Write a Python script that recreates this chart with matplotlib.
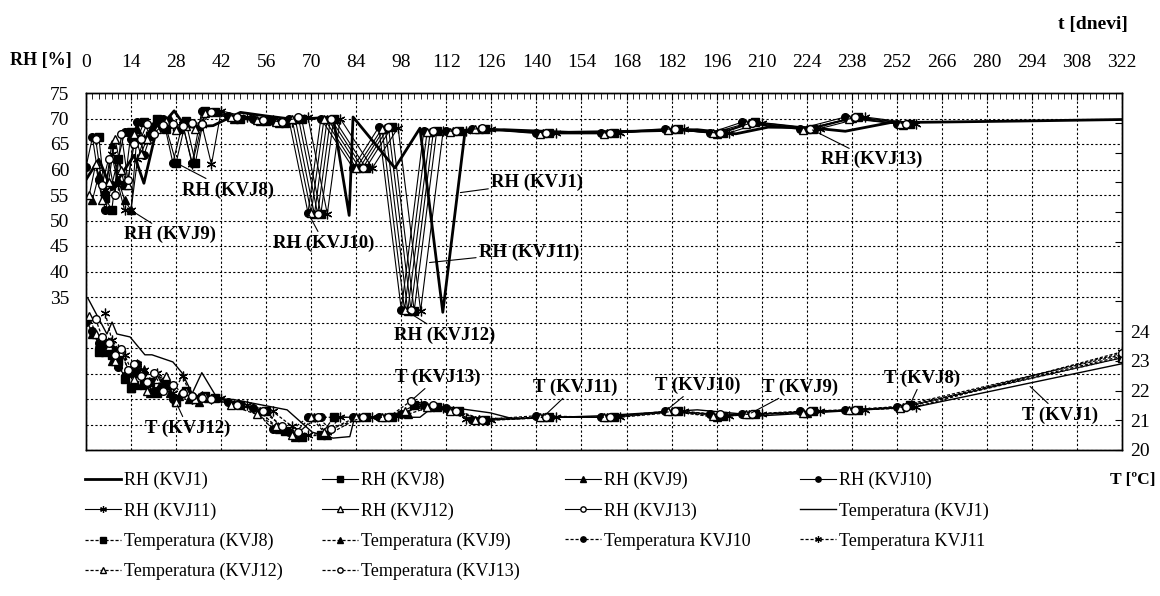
import numpy as np
import matplotlib
matplotlib.use('Agg')
import matplotlib.pyplot as plt

plt.rcParams['font.family'] = 'serif'
plt.rcParams['font.serif'] = ['Liberation Serif', 'DejaVu Serif']

nan = np.nan

# RH (KVJ1) - thick line, no markers
days_rh1 = [0, 4, 8, 12, 15, 18, 21.7, 27.4, 31, 39.5, 48, 56, 65, 76.8, 81.8, 83, 96, 103.8, 110.9, 117.8,
            130, 150, 170, 190, 202, 212, 225, 236, 250, 265, 290, 322]
rh1 = [58, 62, 56, 60, 62.8, 57.3, 67.3, 71.5, 68.3, 68.6, 71.2, 70.5, 69.8, 70.3, 51, 70.3, 60.3, 68.1, 32, 67.4,
       67.8, 67.3, 67.5, 67.8, 67.0, 68.3, 68.2, 67.5, 69.2, 69.3, 69.5, 69.8]

# Temperatura (KVJ1) - thin solid line
days_t1 = [0.6, 6.5, 8.1, 9.6, 13.7, 18.3, 20.5, 27, 29.8, 33, 36, 41, 45.7, 62.5, 70.3, 76.8, 82, 83.6, 91.4,
           103.8, 107.9, 112.2, 125.6, 132.7, 160, 190, 210, 258, 322]
t1 = [25.1, 23.9, 24.3, 23.9, 23.8, 23.2, 23.2, 22.96, 22.6, 21.9, 22.6, 21.7, 21.7, 21.35, 20.6, 20.4, 20.45, 21.15,
      21.1, 21.1, 21.45, 21.45, 21.25, 21.05, 21.15, 21.35, 21.15, 21.45, 22.9]

# sensor KVJ8 (square)
days8 = [4, 6, 8, 10, 12, 14, 16, 18, 20, 22, 25, 28, 31, 34, 37, 40, 48, 56, 62, 67, 73, 77, 87, 95, 102, 109,
         116, 124, 144, 164, 184, 198, 208, 226, 240, 256, 322]
rh8 = [66.3, 54.5, 52, 62, 57, 67.3, 66, 69.3, 66.5, 70, 68, 61.3, 69.5, 61.3, 71.5, 71.3, 70, 69.5, 69.2, 70, 51.3,
       70, 60.3, 68.3, 32.3, 67.5, 67.6, 68, 67.2, 67.2, 68, 67.2, 69.3, 68, 70.3, 69, nan]
t8 = [23.3, 23.6, 23.2, 23.0, 22.4, 22.1, 22.6, 22.2, 22.3, 21.9, 22.2, 21.6, 22.0, 21.7, 21.8, 21.75, 21.5, 21.3,
      20.65, 20.45, 20.5, 21.1, 21.1, 21.1, 21.5, 21.45, 21.3, 21.0, 21.1, 21.1, 21.3, 21.15, 21.2, 21.3, 21.35,
      21.5, 23.1]

# sensor KVJ9 (filled triangle)
days9 = [2, 4, 6, 8, 10, 12, 14, 16, 18, 20, 23, 26, 29, 32, 35, 38, 46, 54, 60, 65, 71, 75, 85, 93, 100, 107,
         114, 122, 142, 162, 182, 196, 206, 224, 238, 254, 322]
rh9 = [54, 59, 56, 65, 58, 54, 52, 68, 66, 67.5, 68.3, 70, 68, 69.5, 68.5, 71.2, 70, 69.5, 69.2, 70, 51.2, 70,
       60.3, 68.2, 32.3, 67.4, 67.5, 68, 67.1, 67.1, 67.9, 67, 69.1, 67.9, 70.1, 68.8, nan]
t9 = [23.9, 23.6, 23.3, 23.0, 22.9, 22.5, 22.1, 22.2, 22.7, 21.9, 22.2, 21.9, 21.8, 21.7, 21.6, 21.75, 21.55, 21.3,
      20.7, 20.45, 21.1, 20.5, 21.1, 21.1, 21.2, 21.45, 21.35, 21.05, 21.1, 21.1, 21.3, 21.1, 21.2, 21.25, 21.35,
      21.45, 23.15]

# sensor KVJ10 (filled circle)
days10 = [0, 2, 4, 6, 8, 10, 12, 14, 16, 18, 21, 24, 27, 30, 33, 36, 44, 52, 58, 63, 69, 73, 83, 91, 98, 105,
          112, 120, 140, 160, 180, 194, 204, 222, 236, 252, 322]
rh10 = [60.5, 66.3, 58, 52, 57, 62, 67.3, 66, 69.3, 62.8, 68.5, 70, 61.3, 69, 61.3, 71.5, 70.5, 70, 69.5, 70,
        51.5, 70, 60.3, 68.3, 32.5, 67.5, 67.5, 68, 67.2, 67.2, 68, 67.2, 69.3, 68, 70.3, 69, nan]
t10 = [24.3, 24.0, 23.6, 23.3, 23.4, 22.8, 22.5, 22.6, 22.9, 22.3, 22.0, 22.3, 21.7, 21.9, 21.8, 21.8, 21.6, 21.4,
       20.7, 20.6, 21.1, 21.1, 21.1, 21.1, 21.2, 21.5, 21.4, 21.0, 21.15, 21.1, 21.3, 21.2, 21.2, 21.3, 21.35,
       21.45, 23.2]

# sensor KVJ11 (asterisk)
days11 = [6, 8, 10, 12, 14, 16, 18, 20, 22, 24, 27, 30, 33, 36, 39, 42, 50, 58, 64, 69, 75, 79, 89, 97, 104, 111,
          118, 126, 146, 166, 186, 200, 210, 228, 242, 258, 322]
rh11 = [56, 63, 57, 52, 52, 62, 66, 67, 69, 69.5, 68.5, 69, 61, 68.8, 61, 71.5, 70.3, 69.8, 69.3, 70.2, 51.3, 70,
        60.3, 68.2, 32.3, 67.5, 67.5, 68, 67.2, 67.2, 68, 67.2, 69.2, 68, 70.3, 69, nan]
t11 = [24.6, 23.7, 23.4, 23.2, 22.7, 22.9, 22.7, 22.2, 22.6, 22.3, 21.9, 22.5, 21.7, 21.8, 21.7, 21.75, 21.5, 21.3,
       20.8, 20.5, 20.6, 21.1, 21.1, 21.15, 21.5, 21.4, 21.05, 21.0, 21.1, 21.1, 21.3, 21.15, 21.2, 21.3, 21.35,
       21.45, 23.3]

# sensor KVJ12 (open triangle)
days12 = [1, 3, 5, 7, 9, 11, 13, 15, 17, 19, 22, 25, 28, 31, 34, 37, 45, 53, 59, 64, 70, 74, 84, 92, 99, 106,
          113, 121, 141, 161, 181, 195, 205, 223, 237, 253, 322]
rh12 = [55, 61, 54, 57.5, 66, 60, 57, 67, 63, 66, 68, 69.5, 67.8, 68.5, 68, 71, 70.2, 69.8, 69.3, 70, 51.5, 70,
        60.3, 68, 32.5, 67.3, 67.3, 68, 67, 67, 67.8, 67.2, 69, 67.8, 70, 68.9, nan]
t12 = [24.5, 23.9, 23.8, 23.5, 23.0, 23.3, 22.7, 22.4, 22.6, 22.0, 22.4, 22.5, 21.6, 22.0, 21.7, 21.8, 21.5, 21.2,
       20.8, 20.5, 21.1, 20.6, 21.1, 21.1, 21.3, 21.45, 21.3, 21.0, 21.1, 21.1, 21.3, 21.15, 21.2, 21.25, 21.35,
       21.4, 23.1]

# sensor KVJ13 (open circle)
days13 = [3, 5, 7, 9, 11, 13, 15, 17, 19, 21, 24, 27, 30, 33, 36, 39, 47, 55, 61, 66, 72, 76, 86, 94, 101, 108,
          115, 123, 143, 163, 183, 197, 207, 225, 239, 255, 322]
rh13 = [66, 57, 62, 55, 67, 58, 65, 66, 69, 67, 68.8, 69, 68.5, 69.2, 69, 71.3, 70.3, 69.8, 69.3, 70.2, 51.3, 70,
        60.3, 68.3, 32.5, 67.6, 67.5, 68.1, 67.2, 67.2, 68, 67.1, 69.2, 68, 70.2, 69, nan]
t13 = [24.4, 23.8, 23.6, 23.2, 23.4, 22.7, 22.9, 22.5, 22.3, 22.6, 22.0, 22.2, 21.9, 21.8, 21.75, 21.7, 21.5, 21.3,
       20.8, 20.6, 21.1, 20.7, 21.1, 21.1, 21.65, 21.5, 21.3, 21.0, 21.1, 21.1, 21.3, 21.2, 21.2, 21.3, 21.35,
       21.45, 23.25]

sensors = [
    ('KVJ8', days8, rh8, t8, dict(marker='s', mfc='black', ms=5.5)),
    ('KVJ9', days9, rh9, t9, dict(marker='^', mfc='black', ms=5.5)),
    ('KVJ10', days10, rh10, t10, dict(marker='o', mfc='black', ms=5.5)),
    ('KVJ11', days11, rh11, t11, dict(marker=(6, 2, 0), mfc='black', ms=7, mew=0.9)),
    ('KVJ12', days12, rh12, t12, dict(marker='^', mfc='white', ms=5.5)),
    ('KVJ13', days13, rh13, t13, dict(marker='o', mfc='white', ms=5.5)),
]

fig = plt.figure(figsize=(11.6, 5.96), dpi=100)
ax = fig.add_axes([86 / 1160, 1 - 450 / 596, 1036 / 1160, 357 / 596])
ax2 = ax.twinx()

rh_lines = []
t_lines = []
l, = ax.plot(days_rh1, rh1, color='black', lw=2.0, label='RH (KVJ1)')
rh_lines.append(l)
for name, d, rh, t, mk in sensors:
    l, = ax.plot(d, rh, color='black', lw=0.8, mec='black', label='RH (%s)' % name, **mk)
    rh_lines.append(l)

l, = ax2.plot(days_t1, t1, color='black', lw=1.0, label='Temperatura (KVJ1)')
t_lines.append(l)
for name, d, rh, t, mk in sensors:
    if name in ('KVJ10', 'KVJ11'):
        lab = 'Temperatura %s' % name
    else:
        lab = 'Temperatura (%s)' % name
    l, = ax2.plot(d, t, color='black', lw=0.9, ls=(0, (2.5, 1.5)), mec='black', label=lab, **mk)
    t_lines.append(l)

# axes setup
ax.set_xlim(0, 322)
ax.set_ylim(5, 75)
ax2.set_ylim(20, 32)

ax.set_xticks(range(0, 323, 14))
ax.set_xticks(range(0, 323, 2), minor=True)
ax.xaxis.tick_top()
ax.tick_params(axis='x', which='major', direction='in', length=5, pad=16, labelsize=14, top=True, bottom=False)
ax.tick_params(axis='x', which='minor', direction='in', length=4, top=True, bottom=False)

yt = list(range(5, 76, 5))
ax.set_yticks(yt)
ax.set_yticklabels([str(v) if v >= 35 else '' for v in yt])
ax.tick_params(axis='y', length=0, pad=12, labelsize=14)

yt2 = list(range(20, 33))
ax2.set_yticks(yt2)
ax2.set_yticklabels([str(v) if v <= 24 else '' for v in yt2])
ax2.tick_params(axis='y', direction='in', length=5, pad=6, labelsize=14)

ax.grid(True, which='major', color='black', linestyle=(0, (2, 2)), linewidth=0.8)
for a in (ax, ax2):
    for s in a.spines.values():
        s.set_linewidth(1.0)

# annotations
akw = dict(ha='center', va='center', fontsize=13.5, fontweight='bold',
           arrowprops=dict(arrowstyle='-', color='black', lw=0.8, shrinkA=0, shrinkB=2))
ax.annotate('RH (KVJ8)', xy=(28, 61.3), xytext=(44.1, 56.0), **akw)
ax.annotate('RH (KVJ9)', xy=(14, 52), xytext=(26.1, 47.2), **akw)
ax.annotate('RH (KVJ10)', xy=(69, 51.5), xytext=(74, 45.6), **akw)
ax.annotate('RH (KVJ1)', xy=(115.5, 55.4), xytext=(140.2, 57.5), **akw)
ax.annotate('RH (KVJ11)', xy=(105.9, 41.7), xytext=(137.7, 43.8), **akw)
ax.annotate('RH (KVJ12)', xy=(99, 32.5), xytext=(111.6, 27.5), **akw)
ax.annotate('RH (KVJ13)', xy=(225, 68), xytext=(244.3, 61.9), **akw)
ax2.annotate('T (KVJ12)', xy=(28, 21.6), xytext=(31.7, 20.74), **akw)
ax2.annotate('T (KVJ13)', xy=(101, 21.65), xytext=(109.4, 22.45), **akw)
ax2.annotate('T (KVJ11)', xy=(142, 21.1), xytext=(152, 22.12), **akw)
ax2.annotate('T (KVJ10)', xy=(180, 21.3), xytext=(190, 22.18), **akw)
ax2.annotate('T (KVJ9)', xy=(206, 21.2), xytext=(222, 22.12), **akw)
ax2.annotate('T (KVJ8)', xy=(256, 21.5), xytext=(260, 22.42), **akw)
ax2.annotate('T (KVJ1)', xy=(292.8, 22.2), xytext=(302.8, 21.18), **akw)

# axis titles
fig.text(72 / 1160, 1 - 60 / 596, 'RH [%]', ha='right', va='center', fontsize=13, fontweight='bold')
fig.text(1128 / 1160, 1 - 25 / 596, 't [dnevi]', ha='right', va='center', fontsize=14, fontweight='bold')
fig.text(1155 / 1160, 1 - 480 / 596, 'T [ºC]', ha='right', va='center', fontsize=12.5, fontweight='bold')

# legend, 4 columns filled row by row
handles = rh_lines + t_lines
labels = [h.get_label() for h in handles]
col_x = [85, 322, 565, 800]
for c in range(4):
    idx = list(range(c, len(handles), 4))
    fig.legend([handles[i] for i in idx], [labels[i] for i in idx], loc='upper left',
               bbox_to_anchor=(col_x[c] / 1160, 1 - 472 / 596), frameon=False, fontsize=13,
               handlelength=2.0, handletextpad=0.15, labelspacing=0.72, borderpad=0,
               borderaxespad=0, markerscale=0.7)

fig.savefig('out.png', dpi=100)
